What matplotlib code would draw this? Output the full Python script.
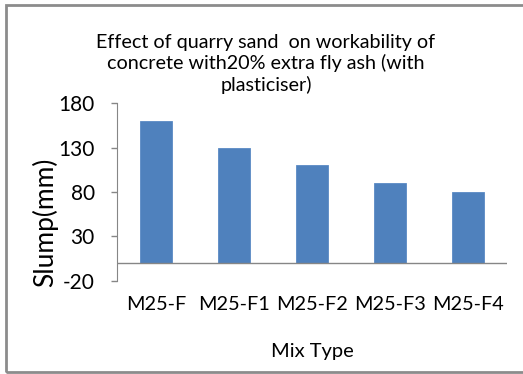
import matplotlib
matplotlib.use("Agg")
import matplotlib.pyplot as plt
from matplotlib.patches import Rectangle

# Slump values for each mix
mix_types = ["M25-F", "M25-F1", "M25-F2", "M25-F3", "M25-F4"]
slump_mm = [160, 130, 110, 90, 80]
y_ticks = [-20, 30, 80, 130, 180]

W, H = 523, 374
plt.rcParams["font.family"] = ["Lato", "DejaVu Sans"]
plt.rcParams["axes.unicode_minus"] = False
fig = plt.figure(figsize=(W / 100, H / 100), dpi=100)

# chart frame
fig.patches.append(Rectangle((6 / W, 1 - 371.5 / H), 1.2, (371.5 - 4.5) / H,
                             transform=fig.transFigure, fill=False,
                             edgecolor="#8c8c8c", linewidth=2))

ax = fig.add_axes([117 / W, 1 - 280.7 / H, (507 - 117) / W, (280.7 - 103.3) / H])
x = range(len(mix_types))
ax.bar(x, slump_mm, width=0.4, color="#4F81BD", edgecolor="#5a8ac4", linewidth=0.6, zorder=2)
ax.set_xlim(-0.5, len(mix_types) - 0.5)
ax.set_ylim(-20, 180)
ax.set_yticks(y_ticks)
ax.set_yticklabels([str(v) for v in y_ticks])
ax.set_xticks(list(x))
ax.set_xticklabels(mix_types, fontsize=14.3)
ax.tick_params(axis="x", length=0, pad=11)
ax.tick_params(axis="y", length=4, width=1, color="#868686", direction="out", pad=12, labelsize=15)
for s in ("top", "right", "bottom"):
    ax.spines[s].set_visible(False)
ax.spines["left"].set_color("#868686")
ax.axhline(0, color="#868686", linewidth=1, zorder=3)

fig.text(266 / W, 1 - 64 / H,
         "Effect of quarry sand  on workability of\nconcrete with20% extra fly ash (with\nplasticiser)",
         ha="center", va="center", fontsize=14.2, linespacing=1.2)
fig.text(45 / W, 1 - 222 / H, "Slump(mm)", rotation=90, ha="center", va="center", fontsize=19)
fig.text(312 / W, 1 - 352 / H, "Mix Type", ha="center", va="center", fontsize=14.5)

fig.savefig("out.png", dpi=100)
